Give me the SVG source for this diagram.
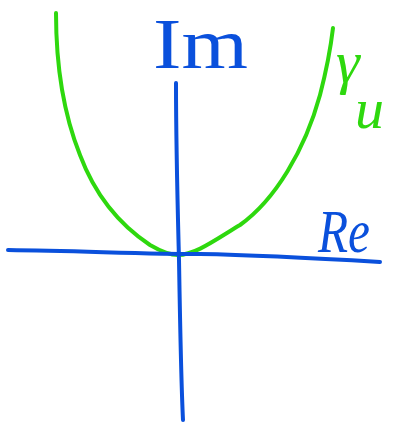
<svg xmlns="http://www.w3.org/2000/svg" width="400" height="433" viewBox="0 0 400 433">
<style>
.ax{fill:none;stroke:#0a50dc;stroke-width:4;stroke-linecap:round;stroke-linejoin:round}
.cv{fill:none;stroke:#2ed80e;stroke-width:4;stroke-linecap:round;stroke-linejoin:round}
.lb{font-family:"Liberation Serif","DejaVu Serif",serif}
.it{font-style:italic}
.blue{fill:#0a50dc}
.green{fill:#2ed80e}
</style>
<rect width="400" height="433" fill="#ffffff"/>
<g id="curve">
<path class="cv" d="M56,13 C56,60 62,110 80,155 C95,195 120,225 150,245 C162,252 170,255 178,255 C195,255 215,240 240,225 C275,200 305,150 320,95 C327,68 331,45 333,28"/>
</g>
<g id="axes">
<path class="ax" d="M8,250 C80,251 150,254 200,254 C260,255 330,259 380,262"/>
<path class="ax" d="M176,83 C176,150 178,220 179,260 C180,320 181,380 183,420"/>
</g>
<g id="label-im">
<text class="lb blue" x="153" y="68" font-size="72" textLength="95" lengthAdjust="spacingAndGlyphs">Im</text>
</g>
<g id="label-re">
<text class="lb it blue" x="318" y="252" font-size="62" textLength="52" lengthAdjust="spacingAndGlyphs">Re</text>
</g>
<g id="label-gamma">
<text class="lb it green" x="336" y="82" font-size="60">γ</text>
<text class="lb it green" x="355" y="128" font-size="58">u</text>
</g>
</svg>
